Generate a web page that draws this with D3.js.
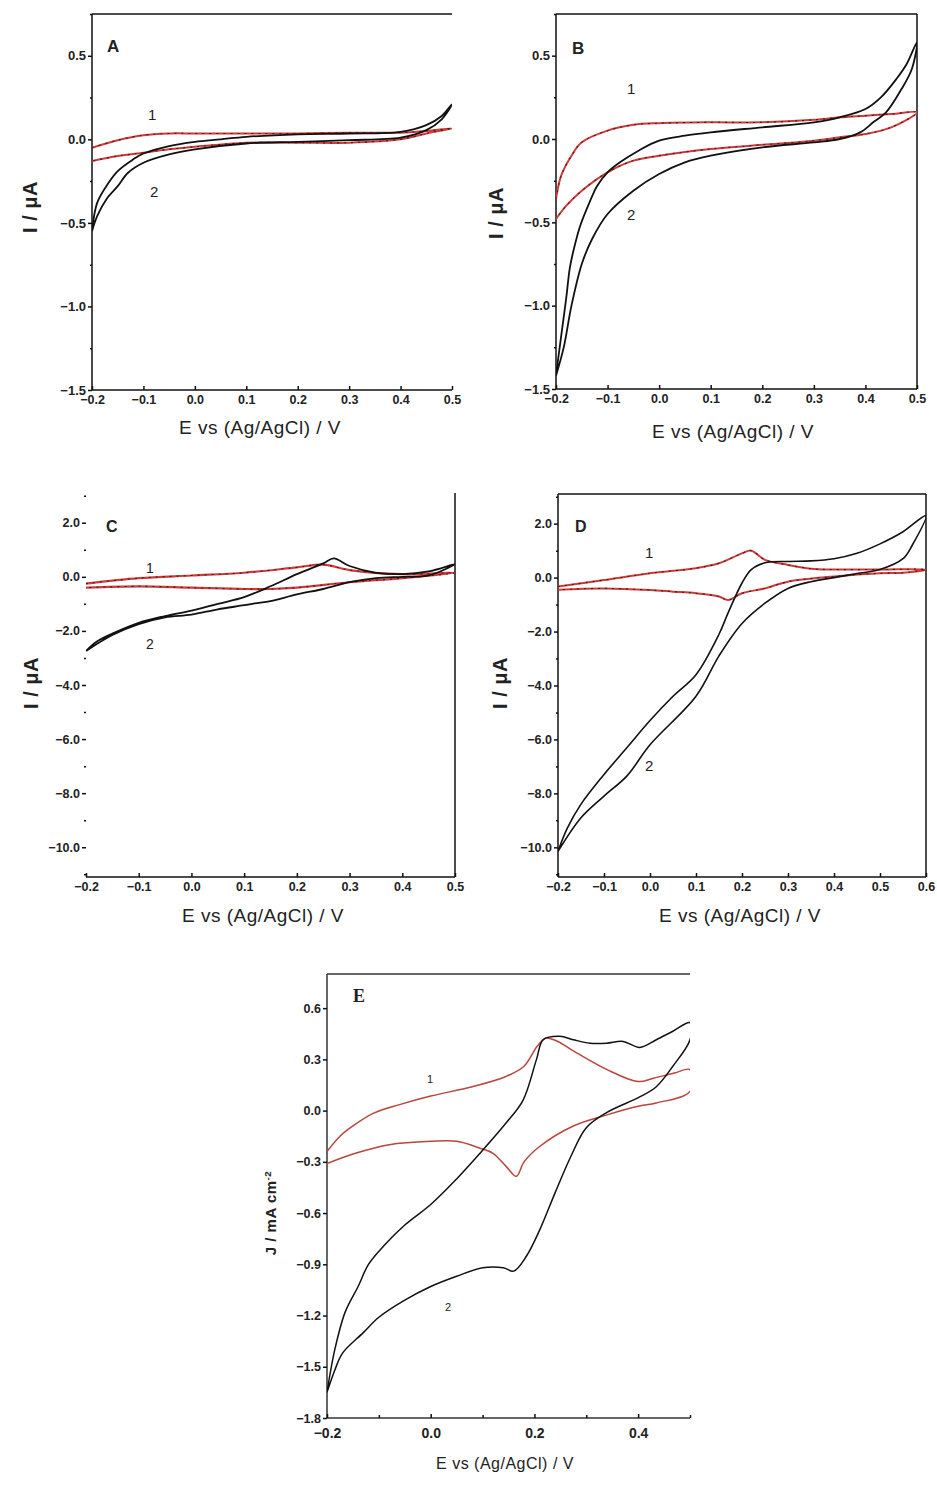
<!DOCTYPE html>
<html>
<head>
<meta charset="utf-8">
<script src="https://cdn.jsdelivr.net/npm/d3@7"></script>
<style>
  body { margin: 0; background: #fff; }
  svg { display: block; }
</style>
</head>
<body>
<div id="chart"></div>
<script>
// ---- data (potential in V, current in uA or mA cm-2) ----
// each curve is a closed loop: forward scan then reverse scan

// panel A
var aCurve1E = [-0.2,-0.15,-0.1,-0.05,0.0,0.1,0.2,0.3,0.4,0.45,0.5, 0.45,0.4,0.3,0.2,0.1,0.0,-0.05,-0.1,-0.15,-0.2];
var aCurve1I = [-0.05,-0.005,0.025,0.035,0.035,0.035,0.035,0.04,0.04,0.05,0.065, 0.035,0.0,-0.02,-0.02,-0.02,-0.045,-0.06,-0.08,-0.1,-0.13];
var aCurve2E = [-0.2,-0.19,-0.17,-0.15,-0.12,-0.1,-0.05,0.0,0.05,0.1,0.2,0.3,0.4,0.45,0.48,0.5, 0.48,0.45,0.4,0.3,0.2,0.1,0.0,-0.05,-0.1,-0.13,-0.15,-0.17,-0.19,-0.2];
var aCurve2I = [-0.55,-0.38,-0.27,-0.19,-0.12,-0.085,-0.04,-0.015,0.0,0.015,0.03,0.035,0.045,0.085,0.14,0.21, 0.12,0.055,0.01,-0.005,-0.015,-0.025,-0.06,-0.09,-0.14,-0.2,-0.28,-0.35,-0.46,-0.55];

// panel B
var bCurve1E = [-0.2,-0.19,-0.17,-0.15,-0.1,-0.05,0.0,0.1,0.2,0.3,0.35,0.4,0.45,0.5, 0.45,0.4,0.35,0.3,0.2,0.1,0.0,-0.05,-0.1,-0.15,-0.18,-0.2];
var bCurve1I = [-0.36,-0.22,-0.1,-0.02,0.05,0.085,0.095,0.1,0.1,0.115,0.13,0.14,0.15,0.16, 0.07,0.03,0.01,-0.01,-0.035,-0.06,-0.1,-0.13,-0.2,-0.31,-0.4,-0.48];
var bCurve2E = [-0.2,-0.195,-0.189,-0.18,-0.173,-0.163,-0.153,-0.135,-0.12,-0.1,-0.076,-0.04,0.0,0.05,0.1,0.2,0.3,0.35,0.4,0.43,0.46,0.48,0.5, 0.49,0.47,0.44,0.415,0.39,0.35,0.3,0.2,0.1,0.05,0.0,-0.05,-0.1,-0.13,-0.15,-0.17,-0.185,-0.2];
var bCurve2I = [-1.42,-1.3,-1.16,-0.95,-0.77,-0.63,-0.52,-0.38,-0.28,-0.2,-0.14,-0.07,-0.01,0.02,0.04,0.07,0.1,0.13,0.18,0.25,0.36,0.45,0.58, 0.42,0.3,0.16,0.1,0.04,0.0,-0.02,-0.05,-0.1,-0.14,-0.21,-0.31,-0.45,-0.6,-0.75,-1.0,-1.25,-1.42];

// panel C
var cCurve1E = [-0.2,-0.1,0.0,0.1,0.2,0.25,0.3,0.4,0.5, 0.4,0.3,0.2,0.15,0.1,0.0,-0.1,-0.2];
var cCurve1I = [-0.25,-0.05,0.05,0.15,0.35,0.45,0.25,0.1,0.15, -0.05,-0.2,-0.4,-0.45,-0.45,-0.4,-0.35,-0.4];
var cCurve2E = [-0.2,-0.18,-0.15,-0.1,-0.05,0.0,0.05,0.1,0.15,0.2,0.25,0.27,0.3,0.35,0.4,0.45,0.5, 0.45,0.4,0.35,0.3,0.25,0.2,0.15,0.12,0.1,0.05,0.0,-0.05,-0.1,-0.15,-0.2];
var cCurve2I = [-2.74,-2.4,-2.1,-1.7,-1.45,-1.25,-1.0,-0.75,-0.35,0.1,0.5,0.68,0.4,0.15,0.1,0.2,0.47, 0.05,0.0,-0.05,-0.2,-0.45,-0.65,-0.9,-0.98,-1.05,-1.2,-1.4,-1.5,-1.75,-2.15,-2.74];

// panel D
var dCurve1E = [-0.2,-0.1,0.0,0.1,0.15,0.2,0.22,0.25,0.3,0.35,0.4,0.5,0.6, 0.55,0.5,0.4,0.3,0.25,0.2,0.17,0.15,0.1,0.05,0.0,-0.1,-0.2];
var dCurve1I = [-0.33,-0.09,0.16,0.35,0.53,0.9,1.0,0.66,0.47,0.33,0.3,0.3,0.3, 0.18,0.16,0.04,-0.15,-0.4,-0.58,-0.83,-0.7,-0.58,-0.52,-0.46,-0.4,-0.45];
var dCurve2E = [-0.2,-0.18,-0.15,-0.1,-0.05,0.0,0.05,0.1,0.15,0.17,0.2,0.22,0.25,0.3,0.35,0.4,0.45,0.5,0.55,0.6, 0.57,0.55,0.5,0.45,0.4,0.35,0.3,0.25,0.2,0.15,0.1,0.0,-0.05,-0.1,-0.15,-0.2];
var dCurve2I = [-10.15,-9.3,-8.4,-7.3,-6.3,-5.3,-4.4,-3.6,-2.1,-1.3,-0.2,0.3,0.55,0.6,0.62,0.7,0.9,1.25,1.7,2.3, 1.2,0.7,0.3,0.15,0.0,-0.15,-0.4,-0.95,-1.7,-2.9,-4.4,-6.2,-7.35,-8.1,-8.9,-10.15];

// panel E (J / mA cm-2)
var eCurve1E = [-0.2,-0.175,-0.15,-0.11,-0.06,0.0,0.08,0.145,0.18,0.205,0.222,0.245,0.275,0.34,0.4,0.43,0.47,0.5, 0.5,0.435,0.4,0.34,0.275,0.21,0.18,0.165,0.145,0.12,0.095,0.05,0.0,-0.08,-0.145,-0.2];
var eCurve1I = [-0.24,-0.15,-0.09,-0.015,0.035,0.085,0.14,0.2,0.26,0.375,0.425,0.405,0.35,0.24,0.17,0.19,0.22,0.24, 0.113,0.045,0.025,-0.025,-0.09,-0.21,-0.3,-0.385,-0.325,-0.25,-0.22,-0.18,-0.18,-0.2,-0.25,-0.31];
var eCurve2E = [-0.2,-0.185,-0.165,-0.14,-0.12,-0.09,-0.05,0.0,0.05,0.095,0.146,0.178,0.204,0.217,0.249,0.275,0.307,0.339,0.371,0.403,0.435,0.467,0.5, 0.5,0.467,0.435,0.403,0.34,0.3,0.27,0.24,0.21,0.185,0.16,0.14,0.1,0.05,0.0,-0.05,-0.1,-0.13,-0.17,-0.185,-0.2];
var eCurve2I = [-1.65,-1.4,-1.18,-1.03,-0.9,-0.79,-0.67,-0.55,-0.4,-0.25,-0.07,0.06,0.3,0.415,0.435,0.415,0.395,0.395,0.405,0.37,0.415,0.465,0.515, 0.415,0.26,0.14,0.08,-0.01,-0.1,-0.27,-0.48,-0.7,-0.85,-0.94,-0.92,-0.92,-0.97,-1.03,-1.11,-1.21,-1.3,-1.42,-1.52,-1.65];

// tick values
var xTicksShort = [-0.2,-0.1,0.0,0.1,0.2,0.3,0.4,0.5];
var xTicksLong = [-0.2,-0.1,0.0,0.1,0.2,0.3,0.4,0.5,0.6];
var yTicksAB = [0.5,0.0,-0.5,-1.0,-1.5];
var yMinorAB = [0.75,0.25,-0.25,-0.75,-1.25];
var yTicksCD = [2,0,-2,-4,-6,-8,-10];
var yMinorCD = [3,1,-1,-3,-5,-7,-9,-11];
var xTicksE = [-0.2,0.0,0.2,0.4];
var xMinorE = [-0.1,0.1,0.3,0.5];
var yTicksE = [0.6,0.3,0.0,-0.3,-0.6,-0.9,-1.2,-1.5,-1.8];

var xTitle = "E vs (Ag/AgCl) / V";

var svg = d3.select("#chart")
    .append("svg")
    .attr("width", 937)
    .attr("height", 1489);

var fmt = d3.format(".1f");
var font = "'Liberation Sans', Arial, sans-serif";
var panelCount = 0;

function drawPanel(p) {
    panelCount++;
    var x = d3.scaleLinear().domain(p.xDomain).range([p.left, p.right]);
    var y = d3.scaleLinear().domain(p.yDomain).range([p.bottom, p.top]);
    var g = svg.append("g");

    var clipId = "clip" + panelCount;
    svg.append("clipPath").attr("id", clipId)
        .append("rect")
        .attr("x", p.left).attr("y", p.top)
        .attr("width", p.right - p.left).attr("height", p.bottom - p.top);

    // frame lines
    var frame = g.append("g").attr("stroke", p.frameColor || "#111").attr("stroke-width", 1.5);
    if (p.frame.left) frame.append("line").attr("x1", p.left).attr("x2", p.left).attr("y1", p.top).attr("y2", p.bottom);
    if (p.frame.right) frame.append("line").attr("x1", p.right).attr("x2", p.right).attr("y1", p.top).attr("y2", p.bottom);
    if (p.frame.top) frame.append("line").attr("x1", p.left).attr("x2", p.right).attr("y1", p.top).attr("y2", p.top);
    frame.append("line").attr("x1", p.left).attr("x2", p.right).attr("y1", p.bottom).attr("y2", p.bottom);

    // x axis
    var xa = g.append("g")
        .attr("transform", "translate(0," + p.bottom + ")")
        .call(d3.axisBottom(x).tickValues(p.xTicks).tickFormat(fmt).tickSizeInner(-4).tickSizeOuter(0).tickPadding(p.xPad || 5));
    if (p.xMinor) {
        g.append("g")
            .attr("transform", "translate(0," + p.bottom + ")")
            .call(d3.axisBottom(x).tickValues(p.xMinor).tickFormat("").tickSizeInner(-3).tickSizeOuter(0));
    }
    // y axis
    var ya = g.append("g")
        .attr("transform", "translate(" + p.left + ",0)")
        .call(d3.axisLeft(y).tickValues(p.yTicks).tickFormat(fmt).tickSizeInner(4).tickSizeOuter(0).tickPadding(2));
    g.append("g")
        .attr("transform", "translate(" + p.left + ",0)")
        .call(d3.axisLeft(y).tickValues(p.yMinor || []).tickFormat("").tickSizeInner(2).tickSizeOuter(0));

    g.selectAll(".domain").remove();
    g.selectAll(".tick line").attr("stroke", "#111").attr("stroke-width", 1.5);
    g.selectAll(".tick text")
        .attr("fill", "#222")
        .style("font-family", font)
        .style("font-weight", "bold");
    xa.selectAll(".tick text").style("font-size", p.xTickFont + "px");
    ya.selectAll(".tick text").style("font-size", p.yTickFont + "px");

    // curves
    var line = d3.line()
        .x(function(d) { return x(d[0]); })
        .y(function(d) { return y(d[1]); })
        .curve(d3.curveCatmullRom.alpha(0.5));

    var plot = g.append("g").attr("clip-path", "url(#" + clipId + ")");
    p.curves.forEach(function(c) {
        var pts = c.e.map(function(v, i) { return [v, c.i[i]]; });
        plot.append("path")
            .datum(pts)
            .attr("fill", "none")
            .attr("stroke", c.color)
            .attr("stroke-width", c.width)
            .attr("stroke-linejoin", "round")
            .attr("d", line);
        if (c.dash) {
            plot.append("path")
                .datum(pts)
                .attr("fill", "none")
                .attr("stroke", c.dash)
                .attr("stroke-width", 1.1)
                .attr("stroke-dasharray", "2,5")
                .attr("d", line);
        }
    });

    // texts
    g.append("text")
        .attr("x", p.letter[0]).attr("y", p.letter[1])
        .style("font-family", p.letterFont || font)
        .style("font-weight", "bold")
        .style("font-size", p.letterSize + "px")
        .attr("fill", "#222")
        .text(p.name);

    p.labels.forEach(function(l) {
        g.append("text")
            .attr("x", l[1]).attr("y", l[2])
            .style("font-family", font)
            .style("font-size", p.labelSize + "px")
            .attr("fill", "#222")
            .text(l[0]);
    });

    g.append("text")
        .attr("x", p.xTitle[0]).attr("y", p.xTitle[1])
        .attr("text-anchor", "middle")
        .style("font-family", font)
        .style("font-size", p.xTitleSize + "px")
        .style("letter-spacing", "0.5px")
        .attr("fill", "#222")
        .text(xTitle);

    var yt = g.append("text")
        .attr("transform", "translate(" + p.yTitle[0] + "," + p.yTitle[1] + ") rotate(-90)")
        .attr("text-anchor", "middle")
        .style("font-family", font)
        .style("font-weight", "bold")
        .style("font-size", p.yTitleSize + "px")
        .style("letter-spacing", "0.5px")
        .attr("fill", "#222");
    if (p.yUnitSup) {
        yt.append("tspan").text(p.yUnit);
        yt.append("tspan").attr("dy", "-0.5em").style("font-size", "0.65em").text(p.yUnitSup);
    } else {
        yt.text(p.yUnit);
    }
}

var red = "#d23a3a";

drawPanel({
    name: "A", left: 92, right: 452, top: 14, bottom: 390,
    xDomain: [-0.2, 0.5], yDomain: [-1.5, 0.75],
    xTicks: xTicksShort, yTicks: yTicksAB, yMinor: yMinorAB,
    frame: {left: true, right: false, top: true},
    xTickFont: 12.5, yTickFont: 13,
    curves: [
        {e: aCurve1E, i: aCurve1I, color: red, width: 2, dash: "#3a2020"},
        {e: aCurve2E, i: aCurve2I, color: "#111", width: 1.8}
    ],
    letter: [107, 52], letterSize: 17,
    labels: [["1", 148, 120], ["2", 150, 197]], labelSize: 15,
    xTitle: [260, 434], xTitleSize: 19,
    yTitle: [37, 207], yTitleSize: 20, yUnit: "I / \u03BCA"
});

drawPanel({
    name: "B", left: 556, right: 917, top: 14, bottom: 389,
    xDomain: [-0.2, 0.5], yDomain: [-1.5, 0.75],
    xTicks: xTicksShort, yTicks: yTicksAB, yMinor: yMinorAB,
    frame: {left: true, right: true, top: true},
    xTickFont: 12.5, yTickFont: 13,
    curves: [
        {e: bCurve1E, i: bCurve1I, color: red, width: 2, dash: "#3a2020"},
        {e: bCurve2E, i: bCurve2I, color: "#111", width: 1.8}
    ],
    letter: [572, 54], letterSize: 17,
    labels: [["1", 627, 94], ["2", 627, 220]], labelSize: 15,
    xTitle: [733, 438], xTitleSize: 19,
    yTitle: [503, 213], yTitleSize: 20, yUnit: "I / \u03BCA"
});

drawPanel({
    name: "C", left: 86, right: 455, top: 493, bottom: 877,
    xDomain: [-0.2, 0.5], yDomain: [-11.1, 3.1],
    xTicks: xTicksShort, yTicks: yTicksCD, yMinor: yMinorCD,
    frame: {left: false, right: true, top: false},
    xTickFont: 12.5, yTickFont: 12.5,
    curves: [
        {e: cCurve1E, i: cCurve1I, color: red, width: 2.2, dash: "#3a2020"},
        {e: cCurve2E, i: cCurve2I, color: "#111", width: 1.8}
    ],
    letter: [106, 532], letterSize: 16,
    labels: [["1", 146, 573], ["2", 146, 649]], labelSize: 14,
    xTitle: [263, 922], xTitleSize: 19,
    yTitle: [38, 683], yTitleSize: 20, yUnit: "I / \u03BCA"
});

drawPanel({
    name: "D", left: 558, right: 926, top: 494, bottom: 877,
    xDomain: [-0.2, 0.6], yDomain: [-11.1, 3.1],
    xTicks: xTicksLong, yTicks: yTicksCD, yMinor: yMinorCD,
    frame: {left: true, right: true, top: true},
    xTickFont: 12.5, yTickFont: 12.5,
    curves: [
        {e: dCurve1E, i: dCurve1I, color: red, width: 2, dash: "#3a2020"},
        {e: dCurve2E, i: dCurve2I, color: "#111", width: 1.6}
    ],
    letter: [575, 532], letterSize: 16,
    labels: [["1", 645, 558], ["2", 645, 771]], labelSize: 15,
    xTitle: [740, 922], xTitleSize: 19,
    yTitle: [507, 683], yTitleSize: 20, yUnit: "I / \u03BCA"
});

drawPanel({
    name: "E", left: 327, right: 690, top: 974, bottom: 1418,
    xDomain: [-0.2, 0.5], yDomain: [-1.8, 0.8],
    xTicks: xTicksE, xMinor: xMinorE, yTicks: yTicksE,
    frame: {left: true, right: false, top: true},
    frameColor: "#333",
    xTickFont: 14, yTickFont: 12.5, xPad: 10,
    curves: [
        {e: eCurve1E, i: eCurve1I, color: "#b9453f", width: 1.5},
        {e: eCurve2E, i: eCurve2I, color: "#111", width: 1.5}
    ],
    letter: [353, 1002], letterSize: 18, letterFont: "'Liberation Serif', 'DejaVu Serif', serif",
    labels: [["1", 427, 1083], ["2", 445, 1311]], labelSize: 11,
    xTitle: [505, 1469], xTitleSize: 16,
    yTitle: [276, 1213], yTitleSize: 15, yUnit: "J / mA cm", yUnitSup: "-2"
});
</script>
</body>
</html>
